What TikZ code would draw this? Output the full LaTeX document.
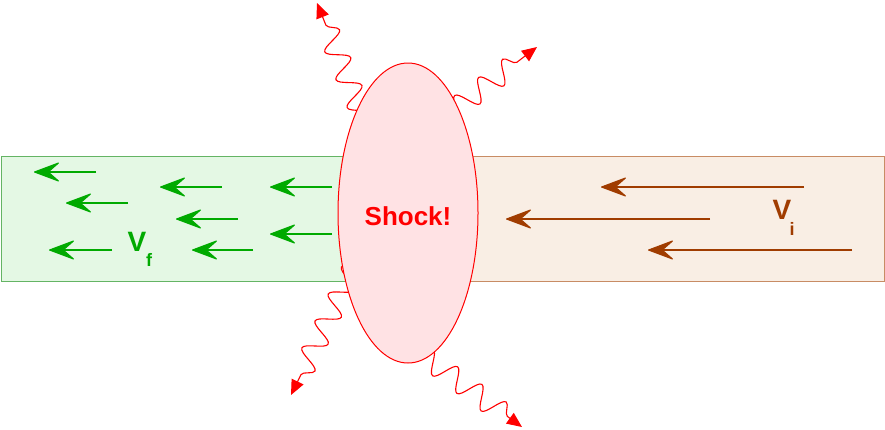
\documentclass[tikz,border=0pt]{standalone}
\usepackage{fontspec}
\setmainfont{Liberation Sans}
\usetikzlibrary{arrows.meta,decorations.pathmorphing,shapes.geometric}
\definecolor{gfill}{RGB}{228,248,228}
\definecolor{gline}{RGB}{100,180,100}
\definecolor{garrow}{RGB}{0,170,0}
\definecolor{bfill}{RGB}{249,238,228}
\definecolor{bline}{RGB}{200,140,100}
\definecolor{barrow}{RGB}{160,60,0}
\definecolor{sfill}{RGB}{255,226,228}
\definecolor{sred}{RGB}{255,0,0}
\tikzset{
  garr/.style={draw=garrow, line width=1.1pt, -{Stealth[length=28pt,width=21pt,inset=12pt,round]}},
  barr/.style={draw=barrow, line width=1.1pt, -{Stealth[length=28pt,width=21pt,inset=12pt,round]}},
  wave/.style={draw=sred, line width=1.1pt, -{Triangle[length=15pt,width=13pt]},
    decorate, decoration={snake, amplitude=11pt, segment length=30pt, pre length=0pt, post length=12pt}},
  lbl/.style={font=\bfseries\fontsize{28}{30}\selectfont, inner sep=0pt},
  sub/.style={font=\bfseries\fontsize{18}{20}\selectfont, inner sep=0pt}
}
\begin{document}
\begin{tikzpicture}[x=1pt,y=-1pt]
\useasboundingbox (0,0) rectangle (885,429);
% tubes
\node[draw=gline, fill=gfill, line width=1pt, minimum width=408pt, minimum height=125pt, anchor=north west, inner sep=0pt] (green) at (1,156) {};
\node[draw=bline, fill=bfill, line width=1pt, minimum width=475pt, minimum height=125pt, anchor=north west, inner sep=0pt] (brown) at (409,156) {};
% wavy photons (start beneath the shock)
\coordinate (w1s) at (372,140); \coordinate (w1e) at (317,3);
\coordinate (w2s) at (430,128); \coordinate (w2e) at (537,47);
\coordinate (w3s) at (362,250); \coordinate (w3e) at (291,395);
\coordinate (w4s) at (395,335); \coordinate (w4e) at (522,427);
\draw[wave] (w1s) -- (w1e);
\draw[wave] (w2s) -- (w2e);
\draw[wave] (w3s) -- (w3e);
\draw[wave] (w4s) -- (w4e);
% shock ellipse
\node[ellipse, draw=sred, fill=sfill, line width=1pt, minimum width=140pt, minimum height=300pt, inner sep=0pt] (shock) at (408,213) {};
\node[text=sred, font=\bfseries\fontsize{26}{28}\selectfont] (shocktxt) at (408,216) {Shock!};
% green arrows
\foreach \n/\a/\b/\y in {g1/96/34/172, g2/128/66/203, g3/112/49/250, g4/222/160/187, g5/238/176/219, g6/253/192/250, g7/332/270/187, g8/332/270/234}{
  \coordinate (\n s) at (\a,\y); \coordinate (\n e) at (\b,\y);
  \draw[garr] (\n s) -- (\n e);
}
% brown arrows
\foreach \n/\a/\b/\y in {b1/804/601/187, b2/710/506/219, b3/852/648/250}{
  \coordinate (\n s) at (\a,\y); \coordinate (\n e) at (\b,\y);
  \draw[barr] (\n s) -- (\n e);
}
% labels
\node[lbl, text=garrow] (vf) at (137,242) {V};
\node[sub, text=garrow] (vfs) at (149,260) {f};
\node[lbl, text=barrow] (vi) at (782,210) {V};
\node[sub, text=barrow] (vis) at (792,229) {i};
\end{tikzpicture}
\end{document}
